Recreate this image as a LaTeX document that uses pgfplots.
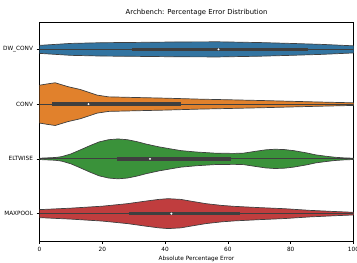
\documentclass[border=0pt]{standalone}
\usepackage{pgfplots}
\pgfplotsset{compat=1.18}
\usepackage{fontspec}
\setmainfont{DejaVu Sans}
\definecolor{vblue}{HTML}{3274A1}
\definecolor{vorange}{HTML}{E1812C}
\definecolor{vgreen}{HTML}{3A923A}
\definecolor{vred}{HTML}{C03D3E}
\definecolor{vgray}{HTML}{3F3F3F}
\begin{document}
\begin{tikzpicture}[x=1bp,y=1bp]
\useasboundingbox (0,0) rectangle (357,263);
\begin{axis}[
  at={(39.5bp,22bp)}, anchor=south west,
  scale only axis, width=314bp, height=219bp,
  xmin=0, xmax=100, ymin=-0.5, ymax=3.5, y dir=reverse,
  xtick={0,20,40,60,80,100},
  ytick={0,1,2,3}, yticklabels={DW\_CONV,CONV,ELTWISE,MAXPOOL},
  tick align=outside, major tick length=3bp,
  tick style={black, line width=0.5bp},
  axis line style={black, line width=0.5bp},
  tick label style={font=\fontsize{5.8}{6.8}\selectfont},
  /pgf/number format/assume math mode=true,
  xlabel={Absolute Percentage Error},
  xlabel style={font=\fontsize{5.8}{6.8}\selectfont, yshift=3bp},
  title={Archbench: Percentage Error Distribution},
  title style={font=\fontsize{6.9}{7.9}\selectfont, yshift=-3.5bp},
  xtick pos=bottom, ytick pos=left,
]
% DW_CONV
\addplot[fill=vblue, draw=vgray, line width=0.7bp] coordinates {
(-2,-0.073) (0,-0.073) (5,-0.091) (10,-0.109) (20,-0.122) (30,-0.127) (45,-0.136) (57,-0.138) (70,-0.125) (80,-0.109) (90,-0.091) (100,-0.065) (102,-0.062)
(102,0.062) (100,0.065) (90,0.091) (80,0.109) (70,0.125) (57,0.138) (45,0.136) (30,0.127) (20,0.122) (10,0.109) (5,0.091) (0,0.073) (-2,0.073)} -- cycle;
% CONV
\addplot[fill=vorange, draw=vgray, line width=0.7bp] coordinates {
(-2,0.65) (0,0.655) (2,0.635) (5,0.61) (9,0.68) (13,0.733) (16,0.79) (18.4,0.836) (22,0.867) (30,0.878) (40,0.891) (51,0.909) (60,0.92) (70,0.933) (78,0.945) (88,0.96) (100,0.976) (102,0.978)
(102,1.022) (100,1.024) (88,1.04) (78,1.055) (70,1.067) (60,1.08) (51,1.091) (40,1.109) (30,1.122) (22,1.133) (18.4,1.164) (16,1.21) (13,1.267) (9,1.32) (5,1.39) (2,1.365) (0,1.345) (-2,1.35)} -- cycle;
% ELTWISE
\addplot[fill=vgreen, draw=vgray, line width=0.7bp] coordinates {
(-2,1.988) (0,1.988) (5,1.975) (7,1.96) (10,1.91) (13,1.836) (16,1.76) (19,1.69) (22,1.65) (25,1.636) (28,1.65) (31,1.685) (34,1.73) (38,1.78) (42,1.82) (45,1.849) (50,1.875) (56,1.896) (62,1.9) (65,1.895) (69,1.86) (72,1.835) (75,1.824) (78,1.83) (81,1.85) (85,1.89) (88,1.927) (91,1.95) (94,1.97) (97,1.982) (100,1.988) (102,1.99)
(102,2.01) (100,2.012) (97,2.018) (94,2.03) (91,2.05) (88,2.073) (85,2.11) (81,2.15) (78,2.17) (75,2.176) (72,2.165) (69,2.14) (65,2.105) (62,2.1) (56,2.104) (50,2.125) (45,2.151) (42,2.18) (38,2.22) (34,2.27) (31,2.315) (28,2.35) (25,2.364) (22,2.35) (19,2.31) (16,2.24) (13,2.164) (10,2.09) (7,2.04) (5,2.025) (0,2.012) (-2,2.012)} -- cycle;
% MAXPOOL
\addplot[fill=vred, draw=vgray, line width=0.7bp] coordinates {
(-2,2.927) (0,2.927) (10,2.9) (20,2.864) (28,2.818) (34,2.77) (38,2.74) (41,2.727) (45,2.74) (49,2.78) (53,2.818) (58,2.85) (62,2.867) (70,2.89) (78,2.91) (86,2.94) (95,2.964) (100,2.976) (102,2.978)
(102,3.022) (100,3.024) (95,3.036) (86,3.06) (78,3.09) (70,3.11) (62,3.133) (58,3.15) (53,3.182) (49,3.22) (45,3.26) (41,3.273) (38,3.26) (34,3.23) (28,3.182) (20,3.136) (10,3.1) (0,3.073) (-2,3.073)} -- cycle;
% whiskers
\addplot[vgray, line width=0.9bp] coordinates {(0,0) (100,0)};
\addplot[vgray, line width=0.9bp] coordinates {(0,1) (100,1)};
\addplot[vgray, line width=0.9bp] coordinates {(0,2) (100,2)};
\addplot[vgray, line width=0.9bp] coordinates {(0,3) (100,3)};
% boxes
\addplot[vgray, line width=3.3bp] coordinates {(29.5,0) (85.4,0)};
\addplot[vgray, line width=3.3bp] coordinates {(4,1) (45,1)};
\addplot[vgray, line width=3.3bp] coordinates {(24.7,2) (61,2)};
\addplot[vgray, line width=3.3bp] coordinates {(28.4,3) (64,3)};
% medians
\addplot[only marks, mark=*, mark size=0.8bp, mark options={fill=white, draw=white}] coordinates {(57,0) (15.6,1) (35.2,2) (42,3)};
\end{axis}
\end{tikzpicture}
\end{document}
